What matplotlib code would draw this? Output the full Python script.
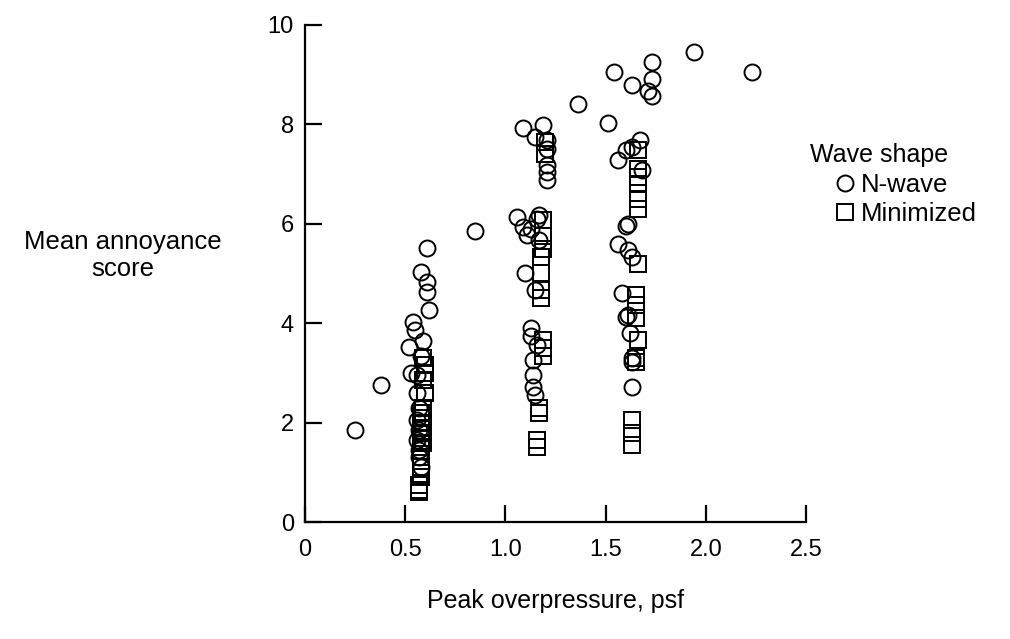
import matplotlib.pyplot as plt

plt.rcParams['font.family'] = ['Liberation Sans', 'DejaVu Sans']

# N-wave (circles): peak overpressure (psf), mean annoyance score
nwave_x = [0.25, 0.38, 0.85,
           0.61, 0.58, 0.61, 0.61, 0.62, 0.54, 0.55, 0.59, 0.52, 0.58, 0.53, 0.56,
           0.56, 0.57, 0.56, 0.57, 0.56, 0.57, 0.57, 0.58,
           1.09, 1.19, 1.15, 1.21, 1.21, 1.21, 1.21, 1.21,
           1.06, 1.17, 1.09, 1.11, 1.17, 1.13, 1.16, 1.10, 1.15,
           1.13, 1.13, 1.16, 1.14, 1.14, 1.14, 1.15,
           1.36, 1.54, 1.51, 1.63, 1.73, 1.73, 1.71, 1.73, 1.94, 2.23,
           1.67, 1.56, 1.60, 1.63, 1.68, 1.61, 1.60, 1.56, 1.61, 1.63,
           1.58, 1.60, 1.61, 1.62, 1.63, 1.63, 1.63]
nwave_y = [1.85, 2.75, 5.85,
           5.51, 5.03, 4.83, 4.63, 4.27, 4.02, 3.86, 3.65, 3.52, 3.35, 3.0, 2.95,
           2.6, 2.3, 2.05, 1.85, 1.65, 1.45, 1.3, 1.1,
           7.93, 7.99, 7.75, 7.69, 7.5, 7.18, 7.04, 6.88,
           6.14, 6.18, 5.94, 5.78, 5.67, 5.9, 6.1, 5.0, 4.67,
           3.9, 3.75, 3.56, 3.26, 2.96, 2.72, 2.55,
           8.4, 9.05, 8.03, 8.8, 9.25, 8.92, 8.67, 8.57, 9.45, 9.05,
           7.69, 7.28, 7.48, 7.55, 7.08, 6.0, 5.95, 5.6, 5.47, 5.33,
           4.6, 4.13, 4.17, 3.8, 3.22, 3.3, 2.72]

# Minimized (squares)
mini_x = [0.59, 0.60, 0.60, 0.59, 0.60, 0.59, 0.58, 0.59, 0.59, 0.58, 0.59, 0.58,
          0.59, 0.58, 0.58, 0.58, 0.58, 0.57, 0.57, 0.57,
          1.20, 1.20, 1.19, 1.19, 1.19, 1.18, 1.18, 1.18, 1.18,
          1.19, 1.19, 1.19, 1.17, 1.17, 1.16, 1.16,
          1.66, 1.66, 1.66, 1.66, 1.66, 1.66, 1.66, 1.65, 1.65, 1.65, 1.66,
          1.65, 1.65, 1.63, 1.63, 1.63]
mini_y = [3.3, 3.15, 3.0, 2.85, 2.6, 2.3, 2.2, 2.1, 2.0, 1.9, 1.8, 1.7,
          1.6, 1.5, 1.3, 1.1, 0.9, 0.75, 0.65, 0.6,
          7.65, 7.4, 6.07, 5.75, 5.5, 5.33, 5.0, 4.67, 4.5,
          3.66, 3.5, 3.35, 2.3, 2.2, 1.65, 1.5,
          7.48, 7.1, 6.95, 6.8, 6.5, 6.3, 5.2, 4.57, 4.37, 4.1, 3.66,
          3.3, 3.22, 2.05, 1.8, 1.55]

fig = plt.figure(figsize=(10.1, 6.39), dpi=100)
ax = fig.add_axes([0.302, 0.183, 0.496, 0.778])

ax.plot(nwave_x, nwave_y, 'o', ms=11.5, mfc='none', mec='black', mew=1.4,
        clip_on=False, label='N-wave')
ax.plot(mini_x, mini_y, 's', ms=11, mfc='none', mec='black', mew=1.4,
        clip_on=False, label='Minimized')

ax.set_xlim(0, 2.5)
ax.set_ylim(0, 10)
ax.set_xticks([0, 0.5, 1.0, 1.5, 2.0, 2.5])
ax.set_xticklabels(['0', '0.5', '1.0', '1.5', '2.0', '2.5'])
ax.set_yticks([0, 2, 4, 6, 8, 10])
ax.tick_params(direction='in', length=12, width=1.6, labelsize=17, pad=12)
ax.tick_params(axis='y', pad=8)
for s in ['top', 'right']:
    ax.spines[s].set_visible(False)
for s in ['left', 'bottom']:
    ax.spines[s].set_linewidth(1.6)

ax.set_xlabel('Peak overpressure, psf', fontsize=18, labelpad=20)
fig.text(0.122, 0.6, 'Mean annoyance\nscore', ha='center', va='center',
         fontsize=18.5, linespacing=1.2)

# legend title sits left of the indented entries
fig.text(0.802, 0.757, 'Wave shape', ha='left', va='center', fontsize=18)
leg = fig.legend(loc='upper left', bbox_to_anchor=(0.824, 0.729),
                 frameon=False, fontsize=18.5, borderpad=0, borderaxespad=0,
                 handletextpad=0.1, handlelength=1.0, labelspacing=0.2)

fig.savefig('out.png', dpi=100)
